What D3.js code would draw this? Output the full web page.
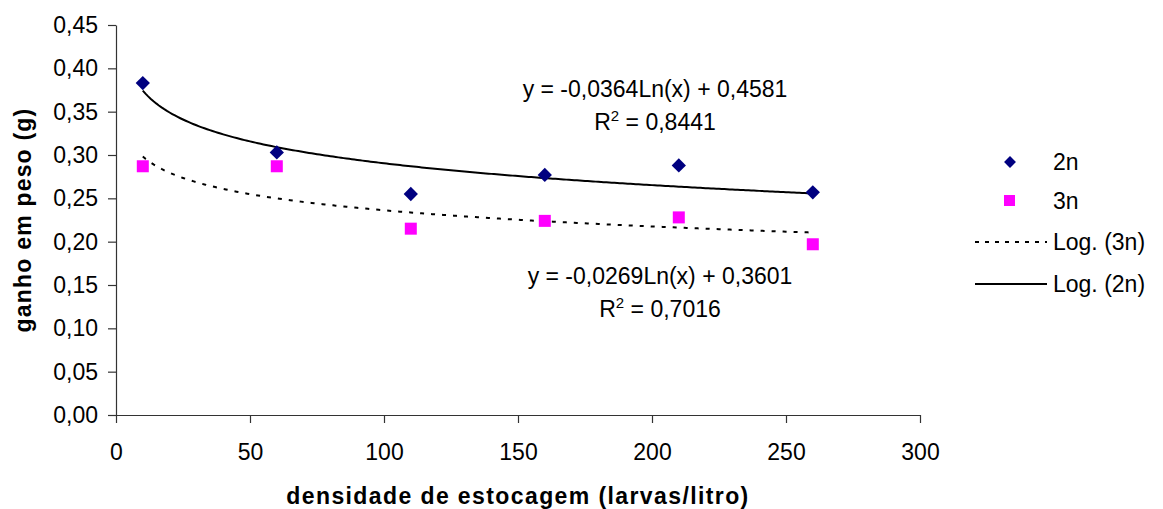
<!DOCTYPE html>
<html>
<head>
<meta charset="utf-8">
<script src="https://cdn.jsdelivr.net/npm/d3@7"></script>
<style>
  body { margin: 0; background: #fff; }
  svg { font-family: Arial, "Liberation Sans", sans-serif; }
</style>
</head>
<body>
<div id="chart"></div>
<script>
// data
var densidade = [10, 60, 110, 160, 210, 260];
var ganho2n = [0.383, 0.303, 0.255, 0.277, 0.288, 0.257];
var ganho3n = [0.287, 0.287, 0.215, 0.224, 0.228, 0.197];

// log trend lines y = a*ln(x) + b, as printed on the chart
var trendNames = ["Log. (2n)", "Log. (3n)"];
var trendA = [-0.0364, -0.0269];
var trendB = [0.4581, 0.3601];
var trendR2 = ["0,8441", "0,7016"];
var trendEq = ["y = -0,0364Ln(x) + 0,4581", "y = -0,0269Ln(x) + 0,3601"];

var xTicks = [0, 50, 100, 150, 200, 250, 300];
var yTicks = [0, 0.05, 0.10, 0.15, 0.20, 0.25, 0.30, 0.35, 0.40, 0.45];

var svgWidth = 1163;
var svgHeight = 509;

var margin = { top: 25, right: 243, bottom: 94, left: 116 };
var width = svgWidth - margin.left - margin.right;
var height = svgHeight - margin.top - margin.bottom;

var svg = d3.select("#chart")
  .append("svg")
  .attr("width", svgWidth)
  .attr("height", svgHeight);

var chartGroup = svg.append("g")
  .attr("transform", `translate(${margin.left},${margin.top})`);

var xScale = d3.scaleLinear().domain([0, 300]).range([0, width]);
var yScale = d3.scaleLinear().domain([0, 0.45]).range([height, 0]);

var fmt = function(d) { return d3.format(".2f")(d).replace(".", ","); };

// axes
var bottomAxis = d3.axisBottom(xScale).tickValues(xTicks).tickSize(8).tickPadding(17).tickSizeOuter(0);
var leftAxis = d3.axisLeft(yScale).tickValues(yTicks).tickFormat(fmt).tickSize(8).tickPadding(10).tickSizeOuter(0);

var gx = chartGroup.append("g")
  .attr("transform", `translate(0, ${height})`)
  .call(bottomAxis);

var gy = chartGroup.append("g")
  .call(leftAxis);

[gx, gy].forEach(function(g) {
  g.selectAll("path, line").attr("stroke", "#333").attr("stroke-width", 1.2);
  g.selectAll("text").attr("font-size", "23px").attr("fill", "#000")
    .attr("font-family", "Arial, 'Liberation Sans', sans-serif");
});
gx.selectAll("text").attr("dy", "0.85em");

// trend lines
var line = d3.line()
  .x(d => xScale(d[0]))
  .y(d => yScale(d[1]));

var trendX = d3.range(densidade[0], densidade[densidade.length - 1] + 0.5, 1);

trendA.forEach(function(a, i) {
  var pts = trendX.map(x => [x, a * Math.log(x) + trendB[i]]);
  chartGroup.append("path")
    .datum(pts)
    .attr("d", line)
    .attr("fill", "none")
    .attr("stroke", "#000")
    .attr("stroke-width", 2)
    .attr("stroke-dasharray", i == 1 ? "4,7" : null);
});

// points
var diamond = d3.symbol().type(d3.symbolDiamond2).size(130);
chartGroup.selectAll(".p2n").data(densidade)
  .enter()
  .append("path")
  .attr("class", "p2n")
  .attr("d", diamond)
  .attr("transform", (d, i) => `translate(${xScale(d)},${yScale(ganho2n[i])})`)
  .attr("fill", "#000080");

chartGroup.selectAll(".p3n").data(densidade)
  .enter()
  .append("rect")
  .attr("class", "p3n")
  .attr("x", d => xScale(d) - 6)
  .attr("y", (d, i) => yScale(ganho3n[i]) - 6)
  .attr("width", 12)
  .attr("height", 12)
  .attr("fill", "#ff00ff");

// equations
var eqPos = [[655, 97, 130], [660, 284, 317]];
trendEq.forEach(function(t, i) {
  svg.append("text")
    .attr("x", eqPos[i][0])
    .attr("y", eqPos[i][1])
    .attr("text-anchor", "middle")
    .attr("font-size", "23px")
    .text(t);
  var r = svg.append("text")
    .attr("x", eqPos[i][0])
    .attr("y", eqPos[i][2])
    .attr("text-anchor", "middle")
    .attr("font-size", "23px");
  r.append("tspan").text("R");
  r.append("tspan").attr("font-size", "15px").attr("dy", "-9").text("2");
  r.append("tspan").attr("dy", "9").text(" = " + trendR2[i]);
});

// axis titles
svg.append("text")
  .attr("x", margin.left + width / 2)
  .attr("y", 504)
  .attr("text-anchor", "middle")
  .attr("font-size", "23px")
  .attr("font-weight", "bold")
  .attr("letter-spacing", "1.4px")
  .text("densidade de estocagem (larvas/litro)");

svg.append("text")
  .attr("transform", `translate(31, ${margin.top + height / 2}) rotate(-90)`)
  .attr("text-anchor", "middle")
  .attr("font-size", "23px")
  .attr("font-weight", "bold")
  .attr("letter-spacing", "1.2px")
  .text("ganho em peso (g)");

// legend
var legend = svg.append("g");
var legendY = [162, 201, 242, 284];
var legendLabels = ["2n", "3n", trendNames[1], trendNames[0]];

legend.append("path")
  .attr("d", d3.symbol().type(d3.symbolDiamond2).size(90))
  .attr("transform", `translate(1010,${legendY[0]})`)
  .attr("fill", "#000080");
legend.append("rect")
  .attr("x", 1004).attr("y", legendY[1] - 6)
  .attr("width", 11).attr("height", 11)
  .attr("fill", "#ff00ff");
legend.append("line")
  .attr("x1", 975).attr("x2", 1047)
  .attr("y1", legendY[2]).attr("y2", legendY[2])
  .attr("stroke", "#000").attr("stroke-width", 2)
  .attr("stroke-dasharray", "4,6");
legend.append("line")
  .attr("x1", 975).attr("x2", 1047)
  .attr("y1", legendY[3]).attr("y2", legendY[3])
  .attr("stroke", "#000").attr("stroke-width", 2);

legend.selectAll("text").data(legendLabels)
  .enter()
  .append("text")
  .attr("x", 1053)
  .attr("y", (d, i) => legendY[i])
  .attr("dy", "0.36em")
  .attr("font-size", "23px")
  .text(d => d);
</script>
</body>
</html>
